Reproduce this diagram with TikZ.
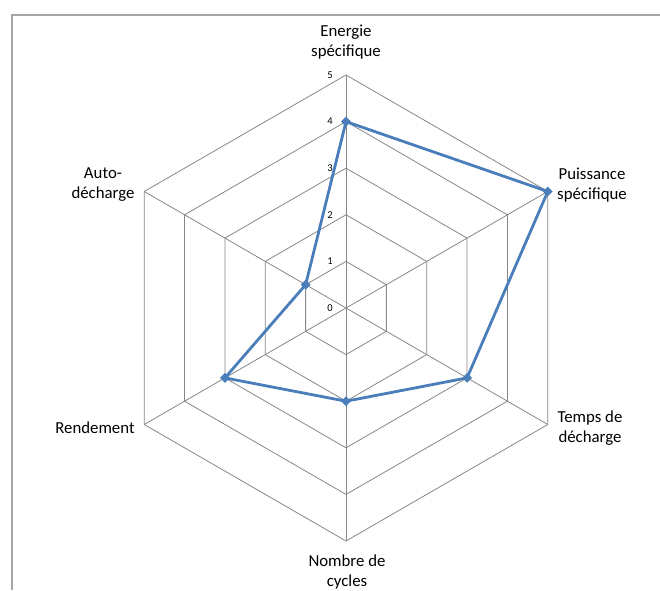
\documentclass[tikz,border=0pt]{standalone}
\usepackage{fontspec}
\setmainfont{Carlito}
\usetikzlibrary{shapes.geometric}
\definecolor{gridgray}{HTML}{868686}
\definecolor{seriesblue}{HTML}{4A7EBB}
\definecolor{framegray}{HTML}{A6A6A6}
\tikzset{
  axislabel/.style={align=center, inner sep=0pt, font=\fontsize{16.8}{20}\selectfont},
  ticklabel/.style={inner sep=0pt, font=\fontsize{10.5}{12}\selectfont},
  gridline/.style={draw=gridgray, line width=0.8pt},
  seriesline/.style={draw=seriesblue, line width=2.8pt, line join=round},
  marker/.style={diamond, fill=seriesblue, inner sep=0pt, minimum size=10pt}
}
\begin{document}
\begin{tikzpicture}[x=1pt,y=1pt]
  \useasboundingbox (0,0) rectangle (660,590);
  \draw[framegray, line width=1.5pt] (12,0) -- (12,575) -- (660,575);
  \begin{scope}[shift={(346,282)}]
    % grid
    \foreach \r in {1,...,5}
      \draw[gridline] (90:46.6*\r) -- (30:46.6*\r) -- (-30:46.6*\r) -- (-90:46.6*\r)
        -- (-150:46.6*\r) -- (150:46.6*\r) -- cycle;
    \foreach \a in {90,30,-30,-90,-150,150}
      \draw[gridline] (0,0) -- (\a:233);
    \foreach \r in {0,...,5}
      \node[ticklabel] (tick\r) at (-16,46.6*\r) {\r};
    % axes
    \node[axislabel] (energie) at (0,266) {Energie\\spécifique};
    \node[axislabel] (puissance) at (246,123) {Puissance\\spécifique};
    \node[axislabel] (temps) at (244,-120) {Temps de\\décharge};
    \node[axislabel] (cycles) at (1,-264) {Nombre de\\cycles};
    \node[axislabel] (rendement) at (-251,-120) {Rendement};
    \node[axislabel] (auto) at (-243,123) {Auto-\\décharge};
    % series
    \coordinate (vE) at (90:4*46.6);
    \coordinate (vP) at (30:5*46.6);
    \coordinate (vT) at (-30:3*46.6);
    \coordinate (vN) at (-90:2*46.6);
    \coordinate (vR) at (-150:3*46.6);
    \coordinate (vA) at (150:1*46.6);
    \draw[seriesline] (vE) -- (vP) -- (vT) -- (vN) -- (vR) -- (vA) -- cycle;
    \foreach \v in {vE,vP,vT,vN,vR,vA}
      \node[marker] (m\v) at (\v) {};
  \end{scope}
\end{tikzpicture}
\end{document}
